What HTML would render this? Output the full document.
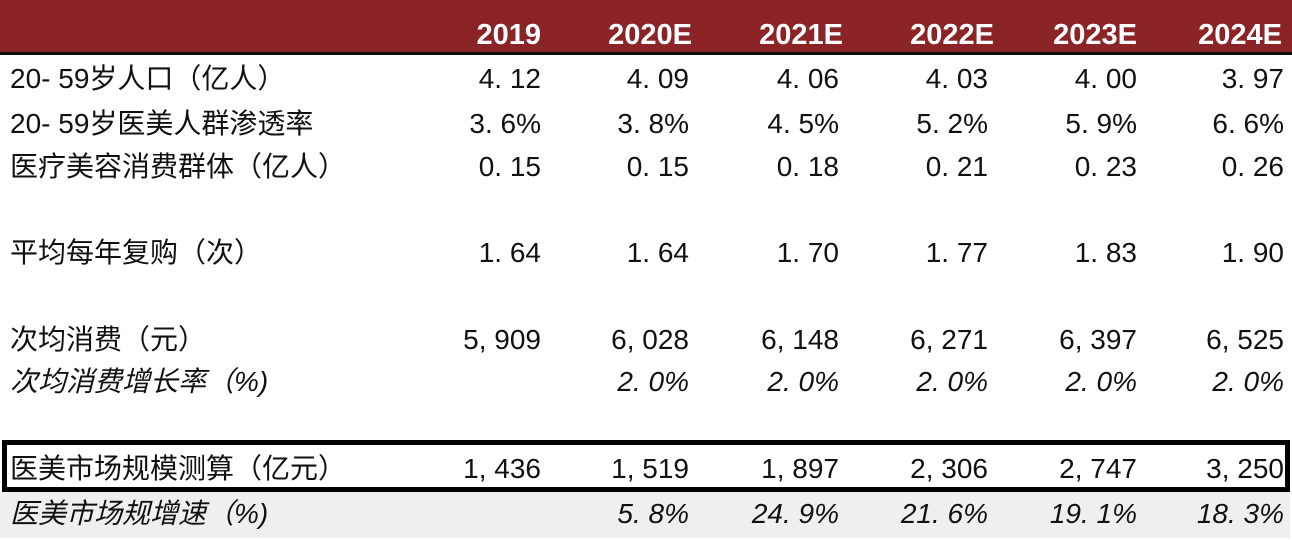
<!DOCTYPE html>
<html><head><meta charset="utf-8">
<style>
body{margin:0;width:1292px;height:540px;background:#fff;position:relative;overflow:hidden;font-family:"Liberation Sans","Noto Sans CJK SC",sans-serif;color:#111}
.hdr{position:absolute;left:0;top:0;width:1292px;height:52px;background:#8a2427}
.hline{position:absolute;left:0;top:52px;width:1292px;height:3px;background:#111}
.t{position:absolute;font-size:28px;line-height:30px;white-space:nowrap}
.h{color:#fff;font-weight:600;font-size:29px}
.i{font-style:italic}
.box{position:absolute;left:2px;top:440px;width:1278px;height:42px;border:5px solid #000}
.gray{position:absolute;left:0;top:492px;width:1290px;height:46px;background:#efefef}
</style></head><body>
<div class="hdr"></div>
<div class="hline"></div>
<div class="gray"></div>
<div class="box"></div>
<div id="tbl"></div>
<script>
const years=["2019","2020E","2021E","2022E","2023E","2024E"];
const labels=["20- 59岁人口（亿人）","20- 59岁医美人群渗透率","医疗美容消费群体（亿人）","平均每年复购（次）","次均消费（元）","次均消费增长率（%)","医美市场规模测算（亿元）","医美市场规增速（%)"];
const pop=["4. 12","4. 09","4. 06","4. 03","4. 00","3. 97"];
const pen=["3. 6%","3. 8%","4. 5%","5. 2%","5. 9%","6. 6%"];
const grp=["0. 15","0. 15","0. 18","0. 21","0. 23","0. 26"];
const rep=["1. 64","1. 64","1. 70","1. 77","1. 83","1. 90"];
const spend=["5, 909","6, 028","6, 148","6, 271","6, 397","6, 525"];
const spendG=["","2. 0%","2. 0%","2. 0%","2. 0%","2. 0%"];
const market=["1, 436","1, 519","1, 897","2, 306","2, 747","3, 250"];
const marketG=["","5. 8%","24. 9%","21. 6%","19. 1%","18. 3%"];
const colR=[541,689,839,988,1137,1284];
const hdrR=[541,692,843,994,1137,1282];
const rowY=[64,109,152,238,325,367,454,499];
const rows=[pop,pen,grp,rep,spend,spendG,market,marketG];
const italic=[false,false,false,false,false,true,false,true];
const root=document.getElementById('tbl');
years.forEach((y,j)=>{
  const d=document.createElement('div');
  
  
  d.className='t h';d.textContent=y;
  d.style.right=(1292-hdrR[j])+'px';d.style.top='20px';
  root.appendChild(d);
});
labels.forEach((l,i)=>{
  const d=document.createElement('div');
  
  
  d.className='t'+(italic[i]?' i':'');d.textContent=l;
  d.style.left='10px';d.style.top=rowY[i]+'px';
  root.appendChild(d);
  rows[i].forEach((v,j)=>{
    const c=document.createElement('div');
    
    
    c.className='t'+(italic[i]?' i':'');c.textContent=v;
    c.style.right=(1292-colR[j])+'px';c.style.top=rowY[i]+'px';
    root.appendChild(c);
  });
});
</script>
</body></html>
